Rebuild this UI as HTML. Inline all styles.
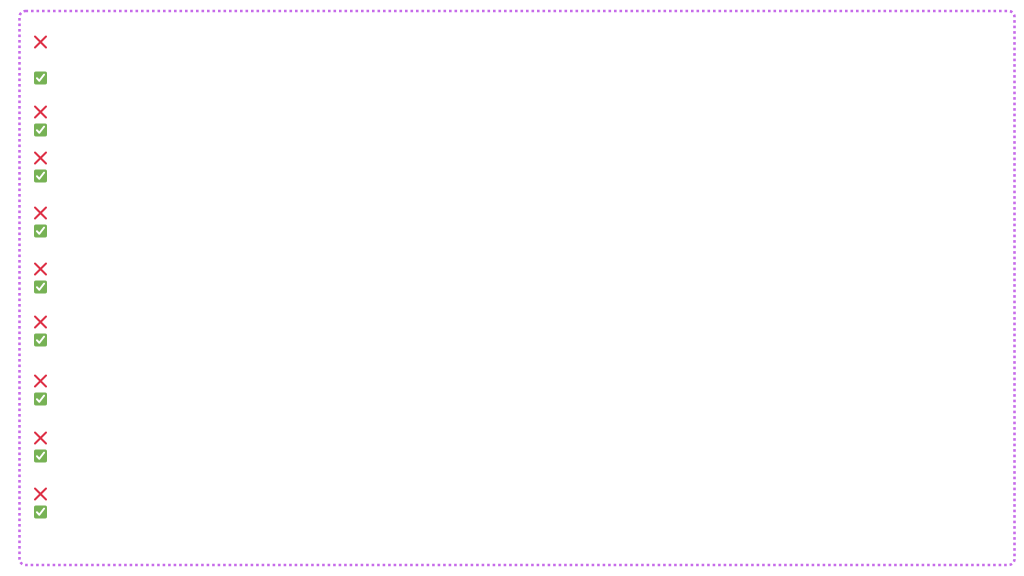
<!DOCTYPE html>
<html>
<head>
<meta charset="utf-8">
<style>
html,body{margin:0;padding:0;background:#fff;}
body{width:1024px;height:576px;overflow:hidden;font-family:"Liberation Sans",sans-serif;}
svg{display:block;}
</style>
</head>
<body>
<svg width="1024" height="576" viewBox="0 0 1024 576" xmlns="http://www.w3.org/2000/svg">
  <defs>
    <g id="x">
      <path d="M-5.5,-5.5 L5.5,5.5 M5.5,-5.5 L-5.5,5.5" stroke="#dd2e44" stroke-width="2" stroke-linecap="round" fill="none"/>
    </g>
    <g id="c">
      <rect x="-6.5" y="-6.5" width="13" height="13" rx="2" fill="#77b255"/>
      <path d="M-3.6,0.2 L-1.2,2.8 L3.6,-3.4" stroke="#fff" stroke-width="1.9" stroke-linecap="round" stroke-linejoin="round" fill="none"/>
    </g>
  </defs>
  <rect x="19.5" y="11" width="995" height="554" rx="6" ry="6" fill="none" stroke="#c66be9" stroke-width="2.6" stroke-dasharray="2.6 2.9"/>
  <use href="#x" x="40.5" y="42"/>
  <use href="#c" x="40.5" y="78"/>
  <use href="#x" x="40.5" y="112"/>
  <use href="#c" x="40.5" y="130"/>
  <use href="#x" x="40.5" y="158"/>
  <use href="#c" x="40.5" y="176"/>
  <use href="#x" x="40.5" y="213"/>
  <use href="#c" x="40.5" y="231"/>
  <use href="#x" x="40.5" y="269"/>
  <use href="#c" x="40.5" y="287"/>
  <use href="#x" x="40.5" y="322"/>
  <use href="#c" x="40.5" y="340"/>
  <use href="#x" x="40.5" y="381"/>
  <use href="#c" x="40.5" y="399"/>
  <use href="#x" x="40.5" y="438"/>
  <use href="#c" x="40.5" y="456"/>
  <use href="#x" x="40.5" y="494"/>
  <use href="#c" x="40.5" y="512"/>
</svg>
</body>
</html>
